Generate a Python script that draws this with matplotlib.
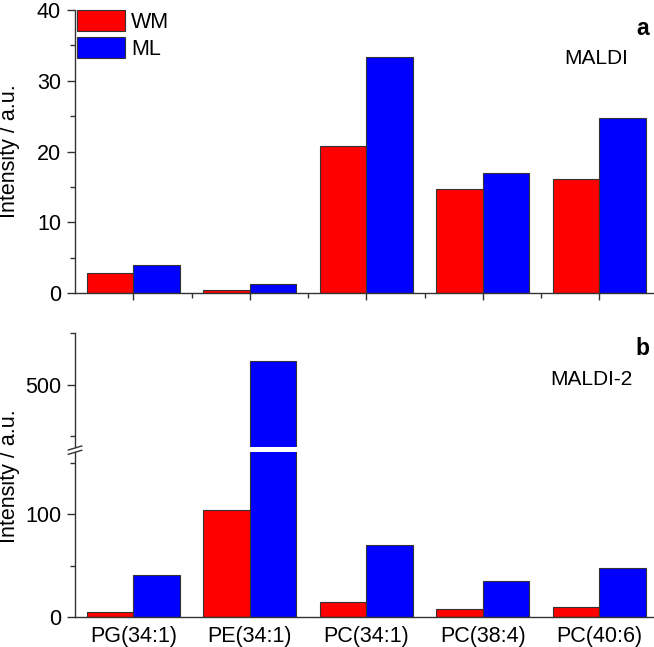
import numpy as np
import matplotlib
matplotlib.use('Agg')
import matplotlib.pyplot as plt
from matplotlib.patches import Patch
from matplotlib.lines import Line2D

plt.rcParams['font.family'] = ['Liberation Sans', 'DejaVu Sans']

categories = ['PG(34:1)', 'PE(34:1)', 'PC(34:1)', 'PC(38:4)', 'PC(40:6)']
maldi_wm = [2.8, 0.4, 20.8, 14.7, 16.1]
maldi_ml = [3.9, 1.3, 33.3, 17.0, 24.7]
maldi2_wm = [5.4, 104, 15, 7.8, 10]
maldi2_ml = [41, 523, 70, 35, 47.5]

RED = '#ff0000'
BLUE = '#0000ff'
EDGE = '#333333'
FS = 15.5

W, H = 654, 647
fig = plt.figure(figsize=(W / 100, H / 100), dpi=100)

def fbox(left, top, right, bottom):
    # pixel box -> figure fraction [l, b, w, h]
    return [left / W, 1 - bottom / H, (right - left) / W, (bottom - top) / H]

ax_a = fig.add_axes(fbox(75, 10, 657.5, 293))
ax_hi = fig.add_axes(fbox(75, 333.3, 657.5, 446.7))
ax_lo = fig.add_axes(fbox(75, 452.3, 657.5, 617.3))

x = np.arange(len(categories))
bw = 0.4

def style(ax):
    for s in ['top', 'right']:
        ax.spines[s].set_visible(False)
    for s in ['left', 'bottom']:
        ax.spines[s].set_color(EDGE)
        ax.spines[s].set_linewidth(1.0)
    ax.tick_params(which='both', direction='out', color=EDGE, labelsize=FS, width=1.0)
    ax.tick_params(which='major', length=6, pad=4)
    ax.tick_params(which='minor', length=3.5)
    ax.set_xlim(-0.5, 4.5)

# panel a
ax_a.bar(x - bw / 2, maldi_wm, bw, color=RED, edgecolor=EDGE, linewidth=0.8)
ax_a.bar(x + bw / 2, maldi_ml, bw, color=BLUE, edgecolor=EDGE, linewidth=0.8)
style(ax_a)
ax_a.set_ylim(0, 40)
ax_a.set_yticks([0, 10, 20, 30, 40])
ax_a.set_yticks([5, 15, 25, 35], minor=True)
ax_a.set_xticks(x)
ax_a.set_xticks(x[:-1] + 0.5, minor=True)
ax_a.tick_params(axis='x', labelbottom=False, which='major', length=5)
ax_a.text(0.975, 0.935, 'a', transform=ax_a.transAxes, fontsize=FS + 1,
          fontweight='bold', ha='center', va='center')
ax_a.text(0.895, 0.83, 'MALDI', transform=ax_a.transAxes, fontsize=FS - 0.5,
          ha='center', va='center')
handles = [Patch(facecolor=RED, edgecolor=EDGE, linewidth=0.8, label='WM'),
           Patch(facecolor=BLUE, edgecolor=EDGE, linewidth=0.8, label='ML')]
ax_a.legend(handles=handles, loc='upper left', bbox_to_anchor=(0.004, 1.0),
            frameon=False, fontsize=FS, borderpad=0, borderaxespad=0,
            handlelength=2.2, handleheight=1.1, labelspacing=0.2,
            handletextpad=0.3)

# panel b, broken axis
for ax in (ax_hi, ax_lo):
    ax.bar(x - bw / 2, maldi2_wm, bw, color=RED, edgecolor=EDGE, linewidth=0.8)
    ax.bar(x + bw / 2, maldi2_ml, bw, color=BLUE, edgecolor=EDGE, linewidth=0.8)
    style(ax)

ax_hi.set_ylim(440, 550)
ax_hi.set_yticks([500])
ax_hi.set_yticks([450, 550], minor=True)
ax_hi.spines['bottom'].set_visible(False)
ax_hi.set_xticks([])
ax_hi.text(0.975, 0.87, 'b', transform=ax_hi.transAxes, fontsize=FS + 1,
           fontweight='bold', ha='center', va='center')
ax_hi.text(0.887, 0.59, 'MALDI-2', transform=ax_hi.transAxes, fontsize=FS - 0.5,
           ha='center', va='center')

ax_lo.set_ylim(0, 160)
ax_lo.set_yticks([0, 100])
ax_lo.set_yticks([50, 150], minor=True)
ax_lo.set_xticks(x)
ax_lo.set_xticklabels(categories, fontsize=FS)
ax_lo.tick_params(axis='x', which='both', length=0, pad=6)

# y labels
fig.text(10 / W, 1 - 151 / H, 'Intensity / a.u.', rotation=90, fontsize=FS,
         ha='center', va='center')
fig.text(10 / W, 1 - 476 / H, 'Intensity / a.u.', rotation=90, fontsize=FS,
         ha='center', va='center')

# break marks on the left spine
for y0, y1 in [(450.0, 446.0), (454.3, 450.3)]:
    fig.add_artist(Line2D([68.3 / W, 81.7 / W], [1 - y0 / H, 1 - y1 / H],
                          color=EDGE, linewidth=1.0, transform=fig.transFigure))

fig.savefig('out.png', dpi=100)
